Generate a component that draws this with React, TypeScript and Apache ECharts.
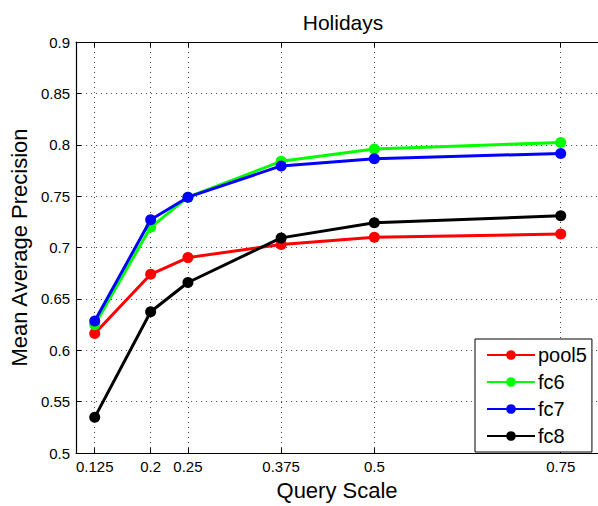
import React, { useEffect, useRef } from "react";
import * as echarts from "echarts";

const scales = [0.125, 0.2, 0.25, 0.375, 0.5, 0.75];
const pool5 = [0.6164, 0.674, 0.6902, 0.703, 0.71, 0.7132];
const fc6 = [0.625, 0.7197, 0.749, 0.7839, 0.7958, 0.8022];
const fc7 = [0.6285, 0.727, 0.749, 0.7794, 0.7865, 0.7916];
const fc8 = [0.5348, 0.6375, 0.666, 0.7094, 0.7242, 0.7309];
const seriesNames = ["pool5", "fc6", "fc7", "fc8"];
const seriesColors = ["#ff0000", "#00ff00", "#0000ff", "#000000"];

const FONT = "Liberation Sans, Arial, Helvetica, sans-serif";

export default function App() {
  const ref = useRef<HTMLDivElement>(null);
  useEffect(() => {
    if (!ref.current) return;
    const chart = echarts.init(ref.current, null, { renderer: "svg" });
    const values = [pool5, fc6, fc7, fc8];
    const gridLine = { show: true, lineStyle: { color: "#444", width: 1, type: [1, 4] as any } };
    chart.setOption({
      animation: false,
      backgroundColor: "#ffffff",
      textStyle: { fontFamily: FONT },
      title: {
        text: "Holidays",
        left: 338,
        textAlign: "center",
        top: 7,
        textStyle: { fontSize: 21, fontWeight: "normal", color: "#000", fontFamily: FONT },
      },
      grid: { left: 75, top: 42, width: 529, bottom: 47 },
      legend: {
        orient: "vertical",
        left: 475,
        top: 339,
        data: seriesNames,
        itemWidth: 48,
        itemHeight: 12,
        itemGap: 7,
        padding: [6, 5, 6, 11],
        borderColor: "#000",
        borderWidth: 1,
        borderRadius: 0,
        backgroundColor: "#fff",
        textStyle: { fontSize: 20, color: "#000", fontFamily: FONT, lineHeight: 20, padding: [0, 0, 0, -2] },
      },
      xAxis: [
        {
          type: "value",
          min: 0.1,
          max: 0.8,
          name: "Query Scale",
          nameLocation: "middle",
          nameGap: 21,
          nameTextStyle: { fontSize: 22, color: "#000", fontFamily: FONT },
          axisLine: { show: true, onZero: false, lineStyle: { color: "#000", width: 1.2 } },
          axisTick: { show: true, inside: true, length: 5, customValues: scales, lineStyle: { color: "#000" } },
          axisLabel: {
            show: true,
            customValues: scales,
            margin: 6,
            fontSize: 15,
            color: "#000",
            fontFamily: FONT,
            formatter: (v: number) => String(v),
          },
          splitLine: gridLine,
        },
        {
          type: "value",
          position: "top",
          min: 0.1,
          max: 0.8,
          axisLine: { show: true, onZero: false, lineStyle: { color: "#000", width: 1.2 } },
          axisTick: { show: true, inside: true, length: 5, customValues: scales, lineStyle: { color: "#000" } },
          axisLabel: { show: false, customValues: scales },
          splitLine: { show: false },
        },
      ],
      yAxis: {
        type: "value",
        min: 0.5,
        max: 0.9,
        interval: 0.05,
        name: "Mean Average Precision",
        nameLocation: "middle",
        nameGap: 44,
        nameTextStyle: { fontSize: 22, color: "#000", fontFamily: FONT },
        axisLine: { show: true, onZero: false, lineStyle: { color: "#000", width: 1.2 } },
        axisTick: { show: true, inside: true, length: 5, lineStyle: { color: "#000" } },
        axisLabel: {
          fontSize: 15,
          color: "#000",
          margin: 6,
          fontFamily: FONT,
          formatter: (v: number) => String(Math.round(v * 100) / 100),
        },
        splitLine: gridLine,
      },
      series: seriesNames.map((name, i) => ({
        name,
        type: "line",
        xAxisIndex: 0,
        data: scales.map((x, j) => [x, values[i][j]]),
        symbol: "circle",
        symbolSize: 11,
        showSymbol: true,
        lineStyle: { color: seriesColors[i], width: 3 },
        itemStyle: { color: seriesColors[i] },
        z: 2 + i,
      })),
    });
    return () => chart.dispose();
  }, []);
  return <div ref={ref} style={{ width: 598, height: 506, position: "absolute", left: 0, top: 0 }} />;
}
